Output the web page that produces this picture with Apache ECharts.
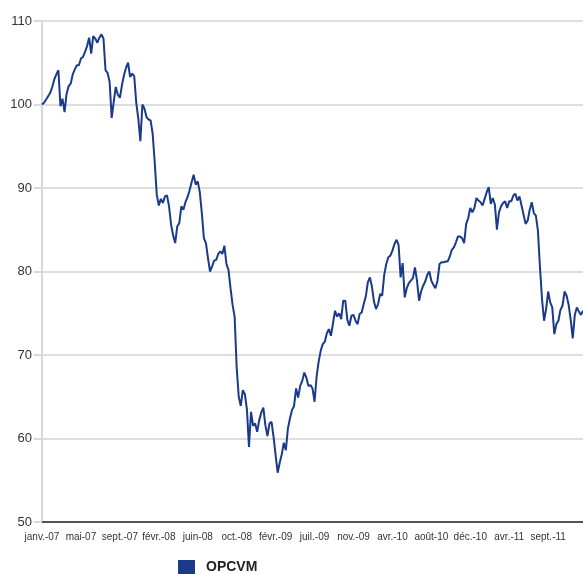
<!DOCTYPE html>
<html>
<head>
<meta charset="utf-8">
<script src="https://cdn.jsdelivr.net/npm/echarts@6/dist/echarts.min.js"></script>
<style>
html,body{margin:0;padding:0;background:#fff;}
#chart{width:583px;height:574px;}
</style>
</head>
<body>
<div id="chart"></div>
<script>
// Tick labels shown on the x axis (one every 19 weekly points)
var tickLabels = ['janv.-07','mai-07','sept.-07','févr.-08','juin-08','oct.-08','févr.-09','juil.-09','nov.-09','avr.-10','août-10','déc.-10','avr.-11','sept.-11'];
var labelStep = 19;
var seriesName = 'OPCVM';
// Weekly values (base 100)
var opcvm = [
100.0,100.2,100.6,101.0,101.4,102.1,103.0,103.6,104.1,99.8,
100.7,99.1,101.3,102.2,102.5,103.6,104.2,104.7,104.7,105.5,
105.7,106.3,107.0,108.0,106.1,108.2,107.9,107.4,108.0,108.4,
107.9,104.1,103.8,102.7,98.4,100.3,102.1,101.2,100.8,102.3,
103.5,104.4,105.0,103.3,103.7,103.4,100.2,98.3,95.6,100.0,
99.5,98.5,98.2,98.1,96.5,93.1,89.2,87.9,88.7,88.2,
89.0,89.1,87.8,85.6,84.3,83.4,85.4,85.8,87.8,87.4,
88.3,88.9,89.7,90.7,91.6,90.4,90.8,89.5,87.0,84.0,
83.4,81.6,80.0,80.6,81.3,81.4,82.1,82.4,82.1,83.1,
80.9,80.2,78.0,76.0,74.6,68.5,65.0,63.9,65.8,65.3,
63.5,59.0,63.2,61.5,61.8,60.8,62.2,63.1,63.7,61.6,
60.3,61.8,62.0,60.2,58.0,55.9,57.1,58.1,59.5,58.6,
61.2,62.4,63.4,63.9,66.0,64.9,66.3,66.9,67.9,67.3,
66.3,66.4,66.0,64.4,67.4,69.2,70.5,71.3,71.6,72.6,
73.1,72.3,73.8,75.3,74.6,75.0,74.3,76.5,76.5,74.2,
73.5,74.7,74.8,74.1,73.7,74.9,75.1,76.1,77.0,78.7,
79.3,78.2,76.4,75.5,76.1,77.3,77.1,79.6,80.9,81.7,
81.9,82.5,83.3,83.8,83.2,79.3,81.0,76.9,78.0,78.6,
78.9,79.2,80.5,78.9,76.5,77.6,78.3,78.8,79.6,80.0,
78.9,78.4,78.0,78.9,80.9,81.1,81.1,81.2,81.2,81.8,
82.6,82.9,83.5,84.2,84.2,84.0,83.4,85.7,86.4,87.6,
87.1,87.6,88.8,88.5,88.3,87.9,88.7,89.5,90.1,88.1,
88.8,88.0,85.0,87.1,87.8,88.2,88.4,87.6,88.4,88.4,
89.1,89.3,88.5,89.0,87.9,86.8,85.7,86.1,87.4,88.3,
87.0,86.7,84.9,80.5,76.7,74.1,75.5,77.6,76.3,75.7,
72.5,73.7,74.1,75.4,75.9,77.6,77.1,76.0,74.2,72.0,
74.8,75.7,75.2,74.8,75.3
];
var categories = opcvm.map(function(v, i){
  return (i % labelStep === 0 && tickLabels[i / labelStep]) ? tickLabels[i / labelStep] : '';
});

var chart = echarts.init(document.getElementById('chart'), null, {renderer:'canvas'});
chart.setOption({
  animation: false,
  backgroundColor: '#ffffff',
  textStyle: {fontFamily: 'Liberation Sans, Arial, sans-serif'},
  grid: {left: 42, right: 0, top: 21, bottom: 52, containLabel: false},
  legend: {
    data: [{name: seriesName, icon: 'rect'}],
    left: 173, top: 555,
    itemWidth: 17, itemHeight: 15,
    textStyle: {fontSize: 14, fontWeight: 'bold', color: '#222', padding: [0,0,0,6]}
  },
  xAxis: {
    type: 'category',
    data: categories,
    boundaryGap: false,
    axisLine: {show: true, lineStyle: {color: '#555', width: 2}},
    axisTick: {show: false},
    axisLabel: {interval: labelStep - 1, fontSize: 10, color: '#333', margin: 10, showMinLabel: true},
    splitLine: {show: false}
  },
  yAxis: {
    type: 'value',
    min: 50, max: 110, interval: 10,
    axisLine: {show: true, lineStyle: {color: '#d9d9d9', width: 2}},
    axisTick: {show: true, length: 8, lineStyle: {color: '#d9d9d9', width: 2}},
    axisLabel: {fontSize: 13, color: '#333', margin: 10},
    splitLine: {show: true, lineStyle: {color: '#dedede', width: 2}}
  },
  series: [{
    name: seriesName,
    type: 'line',
    data: opcvm,
    showSymbol: false,
    symbol: 'none',
    itemStyle: {color: '#1b3a8c'},
    lineStyle: {color: '#1b3a8c', width: 2}
  }]
});
</script>
</body>
</html>
